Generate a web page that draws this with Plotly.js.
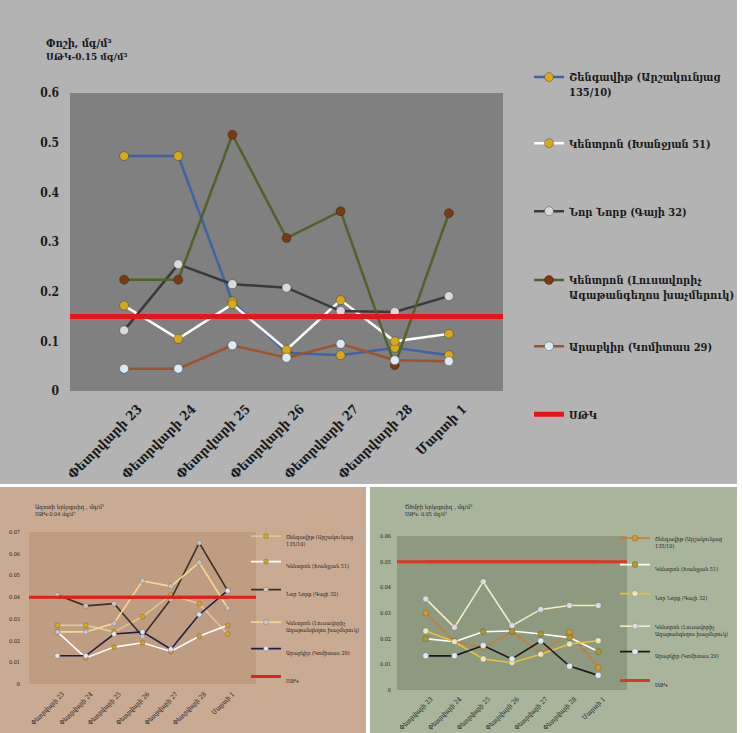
<!DOCTYPE html>
<html><head><meta charset="utf-8">
<script src="https://cdn.plot.ly/plotly-3.0.1.min.js"></script>
<style>html,body{margin:0;padding:0;background:#fff}#chart{width:742px;height:733px}</style>
</head><body><div id="chart"></div><script>
// ---------- DATA ----------
const categories = ['Փետրվարի 23','Փետրվարի 24','Փետրվարի 25','Փետրվարի 26','Փետրվարի 27','Փետրվարի 28','Մարտի 1'];
const seriesNames = ['Շենգավիթ (Արշակունյաց<br>135/10)','Կենտրոն (Խանջյան 51)','Նոր Նորք (Գայի 32)','Կենտրոն (Լուսավորիչ<br>Ագաթանգեղոս խաչմերուկ)','Արաբկիր (Կոմիտաս 29)'];
const limitName = 'ՍԹԿ';

// Dust (Փոշի), mg/m3
const dustShengavit = [0.473,0.473,0.180,0.077,0.072,0.087,0.072];
const dustKentronKhanjyan = [0.172,0.105,0.175,0.083,0.183,0.100,0.115];
const dustNorNork = [0.122,0.255,0.215,0.208,0.161,0.159,0.191];
const dustKentronLusavorich = [0.224,0.224,0.516,0.308,0.362,0.052,0.358];
const dustArabkir = [0.045,0.045,0.092,0.067,0.095,0.062,0.060];
const dustLimit = 0.15;

// Nitrogen dioxide (Ազոտի երկօքսիդ), mg/m3
const no2Shengavit = [0.027,0.027,0.024,0.031,0.041,0.037,0.023];
const no2KentronKhanjyan = [0.024,0.012,0.017,0.019,0.015,0.022,0.027];
const no2NorNork = [0.041,0.036,0.037,0.022,0.039,0.065,0.043];
const no2KentronLusavorich = [0.024,0.024,0.028,0.0475,0.045,0.056,0.035];
const no2Arabkir = [0.013,0.013,0.023,0.024,0.016,0.032,0.043];
const no2Limit = 0.04;

// Sulfur dioxide (Ծծմբի երկօքսիդ), mg/m3
const so2Shengavit = [0.030,0.019,0.0166,0.0227,0.0143,0.0225,0.0087];
const so2KentronKhanjyan = [0.020,0.0188,0.0227,0.023,0.0218,0.0204,0.015];
const so2NorNork = [0.023,0.0188,0.0121,0.0106,0.0139,0.0179,0.0192];
const so2KentronLusavorich = [0.0355,0.0244,0.0422,0.0251,0.0314,0.0329,0.0329];
const so2Arabkir = [0.0133,0.0133,0.0173,0.0121,0.0191,0.0093,0.0057];
const so2Limit = 0.05;

// ---------- LAYOUT / STYLE ----------
const W = 742, H = 733;
const px = v => v / W;
const py = v => 1 - v / H;
const FONT = "'Liberation Sans Narrow', 'DejaVu Serif Condensed', 'DejaVu Sans Condensed', sans-serif";

const charts = [
  { xa:'x', ya:'y', values:[dustShengavit,dustKentronKhanjyan,dustNorNork,dustKentronLusavorich,dustArabkir], limit:dustLimit,
    title:'Փոշի, մգ/մ³', sub:'ՍԹԿ-' + dustLimit + ' մգ/մ³',
    style:{ lines:['#3f63a6','#ffffff','#3a3a3a','#4f6228','#a0522d'], markers:['#d8a81c','#d8a81c','#d9d9d9','#7a3b10','#dbe8f5'],
      limitColor:'#e8141a', lw:2.5, limW:5, ms:9, font:11, weight:'bold', tickFont:13, yTickFont:12,
      xDom:[70,503], yDom:[93,391], yMax:0.6, dtick:0.1, panel:[0,0,737,484], panelColor:'#b3b3b3', plotColor:'#808080',
      titlePos:[44,43,57], titleSize:11, subSize:10, legendX:563, legendOff:34, legendY:[77,144,212,280,347,415], yStand:10, xStand:7, xShift:14 } },
  { xa:'x2', ya:'y2', values:[no2Shengavit,no2KentronKhanjyan,no2NorNork,no2KentronLusavorich,no2Arabkir], limit:no2Limit,
    title:'Ազոտի երկօքսիդ , մգ/մ³', sub:'ՍԹԿ-' + no2Limit + ' մգ/մ³',
    style:{ lines:['#dccb95','#ffffff','#3b3028','#f6d898','#1e1e4a'], markers:['#d6a521','#c8a040','#c6c6c6','#c6c6c6','#dbe6f4'],
      limitColor:'#e0201a', lw:1.6, limW:3, ms:5, font:5.5, weight:'normal', tickFont:6.5, yTickFont:5.5,
      xDom:[29,256], yDom:[532,684], yMax:0.07, dtick:0.01, panel:[0,487,366,733], panelColor:'#c9ab94', plotColor:'#bf9d83',
      titlePos:[33,507,514], titleSize:6, subSize:5.5, legendX:283, legendOff:37, legendY:[537,566,594,623,653,681], yStand:8, xStand:4, xShift:5 } },
  { xa:'x3', ya:'y3', values:[so2Shengavit,so2KentronKhanjyan,so2NorNork,so2KentronLusavorich,so2Arabkir], limit:so2Limit,
    title:'Ծծմբի երկօքսիդ , մգ/մ³', sub:'ՍԹԿ: ' + so2Limit + ' մգ/մ³',
    style:{ lines:['#c87b3c','#ffffff','#e8c232','#f2edc4','#1a1a1a'], markers:['#d8972a','#a89a30','#ece6c0','#dcdcdc','#dce8f2'],
      limitColor:'#d83a22', lw:1.6, limW:3, ms:6, font:5.5, weight:'normal', tickFont:6.5, yTickFont:5.5,
      xDom:[397,627], yDom:[536,690], yMax:0.06, dtick:0.01, panel:[370,487,737,733], panelColor:'#a9b59b', plotColor:'#8e9a80',
      titlePos:[403,507,514], titleSize:6, subSize:5.5, legendX:652, legendOff:37, legendY:[539,569,598,627,656,685], yStand:5, xStand:3, xShift:5 } }
];

const data = [];
const layout = {
  width: W, height: H, margin:{l:0,r:0,t:0,b:0},
  paper_bgcolor:'#ffffff', plot_bgcolor:'rgba(0,0,0,0)',
  showlegend:true, hovermode:false,
  shapes:[], annotations:[]
};

let legendCount = 0;
charts.forEach((c, ci) => {
  const s = c.style;
  const axN = ci === 0 ? '' : String(ci + 1);
  const txtFont = {family:FONT, size:s.font, color:'#1a1a1a', weight:s.weight};
  layout.shapes.push({type:'rect', xref:'paper', yref:'paper', x0:px(s.panel[0]), x1:px(s.panel[2]), y0:py(s.panel[3]), y1:py(s.panel[1]),
    fillcolor:s.panelColor, line:{width:0}, layer:'below'});
  layout.shapes.push({type:'rect', xref:c.xa + ' domain', yref:c.ya + ' domain', x0:0, x1:1, y0:0, y1:1,
    fillcolor:s.plotColor, line:{width:0}, layer:'below'});
  layout['xaxis' + axN] = {domain:[px(s.xDom[0]), px(s.xDom[1])], anchor:c.ya, type:'category', range:[-1, categories.length],
    showgrid:false, zeroline:false, showline:false, ticks:'', tickangle:-45, automargin:false, fixedrange:true,
    tickfont:{family:FONT, size:s.tickFont, color:'#1a1a1a', weight:s.weight}, ticklabelstandoff:s.xStand, ticklabelshift:s.xShift};
  layout['yaxis' + axN] = {domain:[py(s.yDom[1]), py(s.yDom[0])], anchor:c.xa, range:[0, s.yMax], dtick:s.dtick, tick0:0,
    showgrid:false, zeroline:false, showline:false, ticks:'', automargin:false, fixedrange:true,
    tickfont:{family:FONT, size:s.yTickFont, color:'#1a1a1a', weight:s.weight}, ticklabelstandoff:s.yStand};
  layout.annotations.push({xref:'paper', yref:'paper', x:px(s.titlePos[0]), y:py(s.titlePos[1]), xanchor:'left', yanchor:'middle',
    text:c.title, showarrow:false, font:{family:FONT, size:s.titleSize, color:'#1a1a1a', weight:s.weight}});
  layout.annotations.push({xref:'paper', yref:'paper', x:px(s.titlePos[0]), y:py(s.titlePos[2]), xanchor:'left', yanchor:'middle',
    text:c.sub, showarrow:false, font:{family:FONT, size:s.subSize, color:'#1a1a1a', weight:s.weight}});

  const names = seriesNames.concat([limitName]);
  names.forEach((nm, i) => {
    legendCount++;
    const lid = legendCount === 1 ? 'legend' : 'legend' + legendCount;
    const nLines = nm.split('<br>').length;
    const lh = s.font * 1.3;
    const itemH = Math.max(nLines * lh, 16) + 3;
    const off = 5 + itemH / 2 - (nLines - 1) * lh / 2;
    layout[lid] = {x:px(s.legendX - s.legendOff), xanchor:'left', y:py(s.legendY[i] - off), yanchor:'top',
      bgcolor:'rgba(0,0,0,0)', borderwidth:0, font:txtFont, valign:'top', itemwidth:30, itemclick:false, itemdoubleclick:false};
    if (i < seriesNames.length) {
      data.push({type:'scatter', mode:'lines+markers', x:categories, y:c.values[i], name:nm, legend:lid,
        xaxis:c.xa, yaxis:c.ya,
        line:{color:s.lines[i], width:s.lw},
        marker:{color:s.markers[i], size:s.ms, line:{color:'rgba(0,0,0,0.35)', width:ci === 0 ? 0.8 : 0.5}}});
    } else {
      data.push({type:'scatter', mode:'lines', x:categories, y:categories.map(() => c.limit), name:nm, legend:lid,
        xaxis:c.xa, yaxis:c.ya, line:{color:s.limitColor, width:s.limW}});
      layout.shapes.push({type:'line', xref:c.xa + ' domain', yref:c.ya, x0:0, x1:1, y0:c.limit, y1:c.limit,
        line:{color:s.limitColor, width:s.limW}, layer:'above'});
    }
  });
});

Plotly.newPlot('chart', data, layout, {displayModeBar:false, staticPlot:true});
</script></body></html>
